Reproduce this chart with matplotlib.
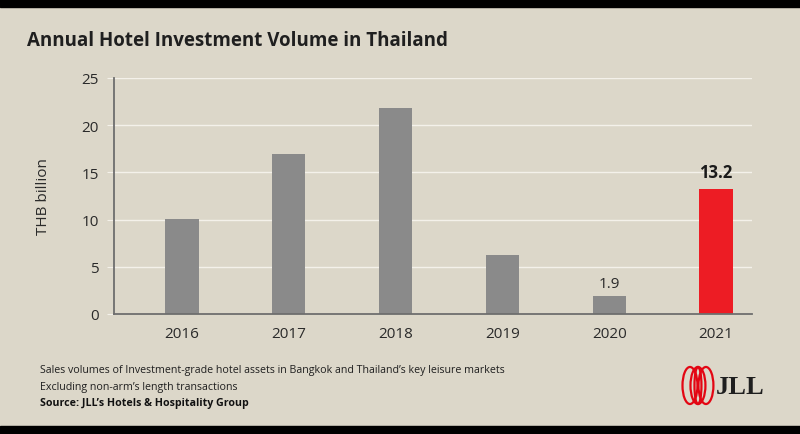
import matplotlib.pyplot as plt
from matplotlib.patches import Ellipse

years = ["2016", "2017", "2018", "2019", "2020", "2021"]
volumes = [10.1, 16.9, 21.8, 6.2, 1.9, 13.2]
bar_colors = ["#8a8a8a", "#8a8a8a", "#8a8a8a", "#8a8a8a", "#8a8a8a", "#ed1c24"]
y_ticks = [0, 5, 10, 15, 20, 25]

BG = "#dcd7c9"
FONT = "Open Sans"

fig = plt.figure(figsize=(8, 4.35), dpi=100, facecolor=BG)

# black bands at top and bottom
fig.patches.append(plt.Rectangle((0, 0.981), 1, 0.019, transform=fig.transFigure,
                                 color="black", zorder=0))
fig.patches.append(plt.Rectangle((0, 0), 1, 0.019, transform=fig.transFigure,
                                 color="black", zorder=0))

ax = fig.add_axes([0.1425, 0.276, 0.7975, 0.5425])
ax.set_facecolor(BG)

x = range(len(years))
ax.bar(x, volumes, width=0.31, color=bar_colors, zorder=3)

ax.set_xlim(-0.637, 5.337)
ax.set_ylim(0, 25)
ax.set_yticks(y_ticks)
ax.set_xticks(list(x))
ax.set_xticklabels(years)

ax.grid(axis="y", color="#f4f1ea", linewidth=1.0, zorder=1)
ax.set_axisbelow(True)
for side in ("top", "right"):
    ax.spines[side].set_visible(False)
for side in ("left", "bottom"):
    ax.spines[side].set_color("#6e6e6e")
    ax.spines[side].set_linewidth(1.3)
    ax.spines[side].set_zorder(4)

ax.tick_params(axis="y", length=5, color="#f4f1ea", pad=6, labelsize=11,
               labelcolor="#2a2a2a")
ax.tick_params(axis="x", length=0, pad=9, labelsize=11, labelcolor="#2a2a2a")
for lab in ax.get_xticklabels() + ax.get_yticklabels():
    lab.set_fontfamily(FONT)

ax.set_ylabel("THB billion", fontsize=11, fontfamily=FONT, color="#2a2a2a", labelpad=22)

# value labels on the last two bars
ax.text(4, volumes[4] + 0.5, "1.9", ha="center", va="bottom", fontsize=11,
        fontfamily=FONT, color="#2a2a2a")
ax.text(5, volumes[5] + 0.9, "13.2", ha="center", va="bottom", fontsize=12,
        fontweight="bold", fontfamily=FONT, color="#1a1a1a")

fig.text(0.034, 0.905, "Annual Hotel Investment Volume in Thailand", fontsize=13.5,
         fontweight="bold", fontfamily=FONT, color="#1f1f1f", va="center")

fig.text(0.05, 0.148, "Sales volumes of Investment-grade hotel assets in Bangkok and Thailand\u2019s key leisure markets",
         fontsize=7.7, fontfamily=FONT, color="#1f1f1f", va="center")
fig.text(0.05, 0.110, "Excluding non-arm\u2019s length transactions",
         fontsize=7.7, fontfamily=FONT, color="#1f1f1f", va="center")
fig.text(0.05, 0.072, "Source: JLL\u2019s Hotels & Hospitality Group",
         fontsize=7.7, fontweight="bold", fontfamily=FONT, color="#111111", va="center")

# JLL logo: interlocking red rings + wordmark
logo = fig.add_axes([0.85, 0.062, 0.106, 0.099])
logo.set_xlim(0, 85)
logo.set_ylim(0, 43)
logo.axis("off")
for cx, w in ((10, 15), (18, 15), (26, 15), (18, 7)):
    logo.add_patch(Ellipse((cx, 21.5), w, 37, fill=False, edgecolor="#e30613", linewidth=1.6))
logo.text(36, 20, "JLL", fontsize=19, fontweight="bold", fontfamily="Liberation Serif",
          color="#1f1f1f", va="center", ha="left")

fig.savefig("out.png", dpi=100, facecolor=BG)
